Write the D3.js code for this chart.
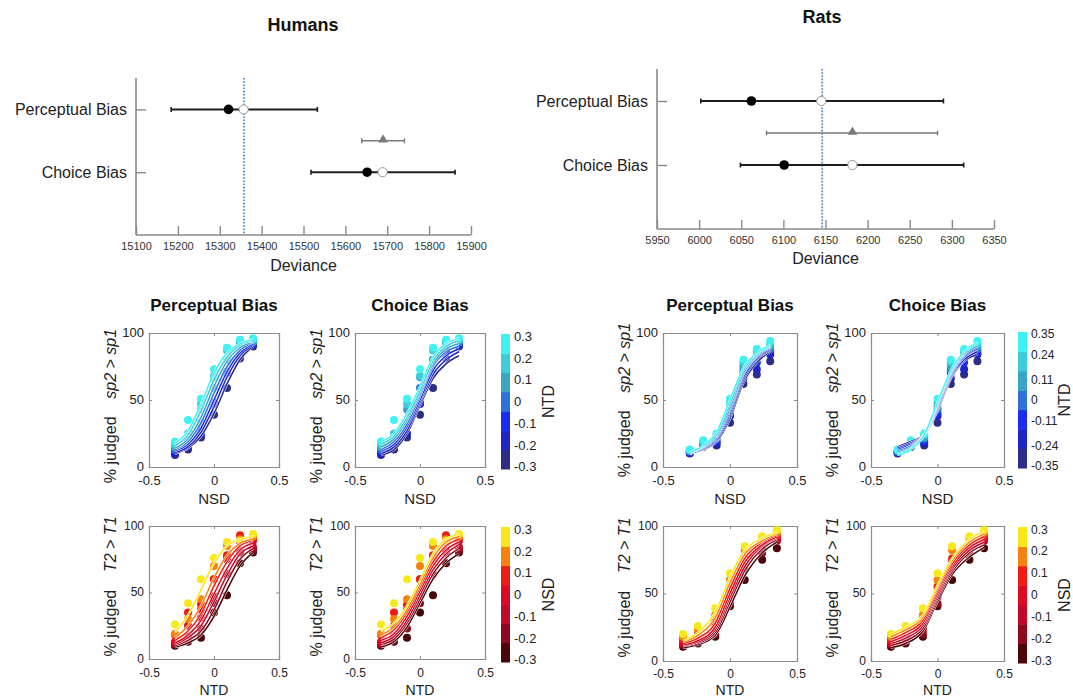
<!DOCTYPE html>
<html><head><meta charset="utf-8">
<script src="https://cdn.jsdelivr.net/npm/d3@7"></script>
<style>body{margin:0;background:#fff} svg{font-family:"Liberation Sans",Arial,Helvetica,sans-serif}</style>
</head><body><svg id="c" width="1073" height="697"></svg>
<script>
// ---------- Deviance plots ----------
const devRows = ["Perceptual Bias", "Choice Bias"];
const devRowPos = [4, 2];
const humanDevTicks = [15100,15200,15300,15400,15500,15600,15700,15800,15900];
const humanDevRef = 15358;
const humanDevLow = [15184, 15518];
const humanDevHigh = [15533, 15862];
const humanDevFilled = [15321, 15652];
const humanDevOpen = [15357, 15689];
const humanDevTri = [15639, 15690, 15741];
const ratDevTicks = [5950,6000,6050,6100,6150,6200,6250,6300,6350];
const ratDevRef = 6146;
const ratDevLow = [6002, 6049];
const ratDevHigh = [6290, 6314];
const ratDevFilled = [6062, 6101];
const ratDevOpen = [6145, 6182];
const ratDevTri = [6080, 6182, 6283];

// ---------- Psychometric panels ----------
const blueColors = ["#2c2e86","#1f24c4","#1b2cf0","#2e72d8","#3aa4c6","#3cccdc","#3ff2f2"];
const redColors = ["#4a0509","#8a0a1e","#bf0a2a","#dc0a22","#ee1c14","#f5820f","#f8e81a"];
const humanLevelTicks = [-0.3,-0.2,-0.1,0,0.1,0.2,0.3];
const humanX = [-0.3,-0.2,-0.1,0,0.1,0.2,0.3];
// Humans, x = NSD, one row per NTD level (-0.3 .. 0.3)
const humanNSDData = [
  [9,13,22,39,59,81,90],
  [10,15,25,47,70,86,91],
  [12,17,30,48,71,87,92],
  [13,19,33,59,80,89,93],
  [15,22,43,67,80,92,94],
  [17,25,47,68,87,94,95],
  [19,35,51,73,89,95,96]];
const humanNSDPerceptualFit = [
  [10,14,23,40,62,80,90],
  [11,15,26,45,67,83,91],
  [12,17,29,50,71,85,92],
  [13,19,33,55,75,87,93],
  [14,21,37,60,79,89,93.5],
  [16,24,42,65,82,91,94],
  [18,27,47,70,85,92,95]];
const humanNSDChoiceFit = [
  [9,13,25,46,66,77,83],
  [10,15,27,48,69,80,86],
  [12,17,30,50,72,83,88],
  [13,19,32,53,75,86,90],
  [15,21,35,55,77,88,92],
  [17,23,37,57,79,90,94],
  [19,25,40,60,82,92,96]];
// Humans, x = NTD, one row per NSD level (-0.3 .. 0.3)
const humanNTDData = [
  [10,13,16,35,48,72,80],
  [11,14,23,42,64,80,82],
  [12,17,31,47,75,81,84],
  [13,25,37,60,76,88,89],
  [18,35,41,60,78,93,92],
  [19,30,45,70,85,90,92],
  [26,42,60,76,88,89,94]];
const humanNTDPerceptualFit = [
  [9,12,18,32,52,70,80],
  [10,14,21,37,58,75,83],
  [11,16,25,43,63,79,85],
  [12,18,29,49,68,82,87],
  [14,21,34,55,73,85,89],
  [16,25,40,61,78,87,90],
  [20,33,52,72,85,90,92]];
const humanNTDChoiceFit = [
  [9,13,24,42,60,72,79],
  [11,15,27,45,64,76,83],
  [12,17,29,48,67,79,86],
  [14,19,32,51,70,82,88],
  [16,22,35,54,73,85,90],
  [18,24,37,56,76,88,92],
  [21,27,40,59,79,90,94]];
// Rats
const ratNTDLevels = [-0.35,-0.24,-0.11,0,0.11,0.24,0.35];
const ratNSDLevels = [-0.3,-0.2,-0.1,0,0.1,0.2,0.3];
const ratNSDX = [-0.3,-0.2,-0.1,0,0.1,0.2,0.3];
const ratNTDX = [-0.35,-0.24,-0.11,0,0.11,0.24,0.35];
const ratNSDData = [
  [10,15,16,33,62,69,79],
  [10.5,16,18,38,66,73,84],
  [11,16.5,19,40,70,78,86],
  [11.5,17,21,43,72,82,88],
  [12,18,22,45,75,84,90],
  [12.5,19,24,48,78,86,92],
  [13,20,25,51,80,88,94]];
const ratNSDPerceptualFit = [
  [10,13,19,36,63,78,86],
  [10,13.5,20,38,65,80,87],
  [10,14,21,40,67,81,88],
  [10.5,14.5,22,42,69,82,89],
  [10.5,15,23,44,70,83,89.5],
  [11,15.5,24,47,72,84,90],
  [11,16,26,50,74,85,91]];
const ratNSDChoiceFit = [
  [15,19,24,42,66,79,84],
  [14,18,24,43,67,80,86],
  [13,17,24,44,68,82,88],
  [12,16,24,45,69,83,89],
  [11,15,24,46,70,84,90],
  [10,14,24,47,71,85,92],
  [9,13,24,48,72,86,93]];
const ratNTDData = [
  [10.5,13,18,40.6,60,75,83.5],
  [12,14,20,42.6,68,80,89],
  [13,16,23,47.5,72,82,90],
  [14,18,25,51,74,85,91],
  [16,20,29,55,76,87,93],
  [18,23,34,60,82,91,95],
  [20,26,39,65,85,92.5,97]];
const ratNTDPerceptualFit = [
  [10,12,19,40,63,80,88],
  [11,13,21,44,67,83,90],
  [11.5,14,23,47,70,85,91],
  [12,15,25,50,73,86,92],
  [13,17,28,54,76,88,93],
  [14,19,32,58,79,89,94],
  [15,21,36,62,82,91,95]];
const ratNTDChoiceFit = [
  [10,13,22,44,64,77,84],
  [11.5,15,24,46,66,80,86],
  [13,17,26,48,68,82,88],
  [14.5,19,28,50,70,84,90],
  [16,21,30,52,72,86,92],
  [18,23,32,54,74,88,94],
  [20,25,34,56,76,90,96]];
const xTicks = [-0.5,0,0.5];
const yTicks = [0,50,100];

const svg = d3.select("#c");
const FONT = '"Liberation Sans",Arial,Helvetica,sans-serif';

function devPlot(o){
  const g = svg.append("g");
  const x = d3.scaleLinear().domain([o.ticks[0], o.ticks[o.ticks.length-1]]).range([o.x0, o.x1]);
  const y = d3.scaleLinear().domain([0,5]).range([o.yBot, o.yTop]);
  const ax = g.append("g").attr("transform",`translate(0,${o.yBot})`)
    .call(d3.axisBottom(x).tickValues(o.ticks).tickFormat(d3.format("d")).tickSize(-9).tickPadding(7));
  ax.selectAll("text").attr("font-size",11).attr("fill","#333").attr("font-family",FONT);
  const ay = g.append("g").attr("transform",`translate(${o.x0},0)`)
    .call(d3.axisLeft(y).tickValues(devRowPos).tickFormat((d,i)=>devRows[i]).tickSize(-10).tickPadding(9));
  ay.selectAll("text").attr("font-size",16).attr("fill","#222").attr("font-family",FONT);
  [ax,ay].forEach(a=>{
    a.select(".domain").attr("stroke","#8a8a8a").attr("stroke-width",1.6);
    a.selectAll(".tick line").attr("stroke","#8a8a8a").attr("stroke-width",1.4);
  });
  ay.select(".domain").attr("d",`M0,${o.yTop}V${o.yBot}`);
  ax.select(".domain").attr("d",`M${o.x0},0H${o.x1}`);
  g.append("line").attr("x1",x(o.ref)).attr("x2",x(o.ref)).attr("y1",o.yTop).attr("y2",o.yBot)
    .attr("stroke","#3b7fc4").attr("stroke-width",1.6).attr("stroke-dasharray","1.6,1.6");
  const ty = y(3);
  g.append("line").attr("x1",x(o.tri[0])).attr("x2",x(o.tri[2])).attr("y1",ty).attr("y2",ty).attr("stroke","#7a7a7a").attr("stroke-width",1.6);
  [o.tri[0],o.tri[2]].forEach(v=>g.append("line").attr("x1",x(v)).attr("x2",x(v)).attr("y1",ty-2.5).attr("y2",ty+2.5).attr("stroke","#7a7a7a").attr("stroke-width",1.4));
  g.append("path").attr("d",d3.symbol(d3.symbolTriangle,40)()).attr("transform",`translate(${x(o.tri[1])},${ty-1})`).attr("fill","#7a7a7a");
  devRowPos.forEach((r,i)=>{
    const yy = y(r);
    g.append("line").attr("x1",x(o.low[i])).attr("x2",x(o.high[i])).attr("y1",yy).attr("y2",yy).attr("stroke","#1e1e1e").attr("stroke-width",2);
    [o.low[i],o.high[i]].forEach(v=>g.append("line").attr("x1",x(v)).attr("x2",x(v)).attr("y1",yy-2.5).attr("y2",yy+2.5).attr("stroke","#1e1e1e").attr("stroke-width",1.6));
    g.append("circle").attr("cx",x(o.filled[i])).attr("cy",yy).attr("r",4.8).attr("fill","#000");
    g.append("circle").attr("cx",x(o.open[i])).attr("cy",yy).attr("r",4.6).attr("fill","#fff").attr("stroke","#9a9a9a").attr("stroke-width",1);
  });
  g.append("text").attr("x",o.titleX).attr("y",o.titleY).attr("text-anchor","middle").attr("font-size",18).attr("font-weight","bold").attr("fill","#111").text(o.title);
  g.append("text").attr("x",(o.x0+o.x1)/2).attr("y",o.labelY).attr("text-anchor","middle").attr("font-size",16).attr("fill","#222").text("Deviance");
}

devPlot({x0:136,x1:471,yTop:78,yBot:235,ticks:humanDevTicks,ref:humanDevRef,low:humanDevLow,high:humanDevHigh,
  filled:humanDevFilled,open:humanDevOpen,tri:humanDevTri,title:"Humans",titleX:303,titleY:31,labelY:271});
devPlot({x0:657,x1:994,yTop:69,yBot:229,ticks:ratDevTicks,ref:ratDevRef,low:ratDevLow,high:ratDevHigh,
  filled:ratDevFilled,open:ratDevOpen,tri:ratDevTri,title:"Rats",titleX:822,titleY:23,labelY:264});

function panel(o){
  const g = svg.append("g");
  const x = d3.scaleLinear().domain([-0.5,0.5]).range([o.x0,o.x1]);
  const y = d3.scaleLinear().domain([0,100]).range([o.y1,o.y0]);
  const axes = [
    g.append("g").attr("transform",`translate(0,${o.y1})`).call(d3.axisBottom(x).tickValues(xTicks).tickSize(-3).tickPadding(o.pad).tickFormat(d=>d===0?"0":d3.format(".1f")(d).replace("\u2212","-"))),
    g.append("g").attr("transform",`translate(${o.x0},0)`).call(d3.axisLeft(y).tickValues(yTicks).tickSize(-3).tickPadding(5)),
    g.append("g").attr("transform",`translate(0,${o.y0})`).call(d3.axisTop(x).tickValues(xTicks).tickSize(-3).tickFormat("")),
    g.append("g").attr("transform",`translate(${o.x1},0)`).call(d3.axisRight(y).tickValues(yTicks).tickSize(-3).tickFormat(""))
  ];
  axes.forEach(a=>{
    a.select(".domain").attr("stroke","#8c8c8c").attr("stroke-width",1.2);
    a.selectAll(".tick line").attr("stroke","#8c8c8c");
    a.selectAll("text").attr("font-size",o.fs).attr("fill","#222").attr("font-family",FONT);
  });
  axes[1].selectAll("text").attr("dy","0.25em");
  o.data.forEach((row,li)=>{
    row.forEach((v,i)=>{
      g.append("circle").attr("cx",x(o.xs[i])).attr("cy",y(v)).attr("r",4).attr("fill",o.colors[li]);
    });
  });
  const line = d3.line().x((d,i)=>x(o.xs[i])).y(d=>y(d)).curve(d3.curveMonotoneX);
  o.fit.forEach((row,li)=>{
    g.append("path").attr("d",line(row)).attr("fill","none").attr("stroke","#fff").attr("stroke-width",2.4);
    g.append("path").attr("d",line(row)).attr("fill","none").attr("stroke",o.colors[li]).attr("stroke-width",1.5);
  });
  if(o.title) g.append("text").attr("x",(o.x0+o.x1)/2).attr("y",o.y0-22).attr("text-anchor","middle")
      .attr("font-size",17).attr("font-weight","bold").attr("fill","#111").text(o.title);
  g.append("text").attr("x",(o.x0+o.x1)/2).attr("y",Math.min(o.y1+37,695)).attr("text-anchor","middle").attr("font-size",o.title?15:14).attr("fill","#222").text(o.xlabel);
  const yl = g.append("text").attr("transform",`translate(${o.x0-33},${(o.y0+o.y1)/2+o.yOff}) rotate(-90)`)
    .attr("text-anchor","middle").attr("font-size",16).attr("fill","#222").attr("xml:space","preserve");
  yl.append("tspan").text("% judged    ");
  yl.append("tspan").attr("font-style","italic").text(o.ylab);
}

function colorbar(o){
  const g = svg.append("g");
  const s = d3.scaleLinear().domain([-o.ext,o.ext]).range([o.y1,o.y0]);
  const n = o.colors.length, h = (o.y1-o.y0)/n;
  o.colors.forEach((c,i)=>{
    g.append("rect").attr("x",o.x).attr("y",o.y1-(i+1)*h).attr("width",9).attr("height",h+0.5).attr("fill",c);
  });
  const a = g.append("g").attr("transform",`translate(${o.x+9},0)`)
    .call(d3.axisRight(s).tickValues(o.ticks).tickSize(0).tickPadding(4).tickFormat(d=>String(d)));
  a.select(".domain").remove();
  a.selectAll("text").attr("font-size",o.fs).attr("fill","#222").attr("font-family",FONT);
  g.append("text").attr("transform",`translate(${o.lx},${(o.y0+o.y1)/2}) rotate(-90)`).attr("text-anchor","middle")
    .attr("dy","0.35em").attr("font-size",16).attr("fill","#222").text(o.label);
}

// Humans
panel({x0:149,x1:279,y0:333,y1:467,pad:9,fs:13,xs:humanX,data:humanNSDData,fit:humanNSDPerceptualFit,colors:blueColors,title:"Perceptual Bias",xlabel:"NSD",ylab:"sp2 > sp1",yOff:6});
panel({x0:355,x1:485,y0:333,y1:467,pad:9,fs:13,xs:humanX,data:humanNSDData,fit:humanNSDChoiceFit,colors:blueColors,title:"Choice Bias",xlabel:"NSD",ylab:"sp2 > sp1",yOff:6});
panel({x0:149,x1:279,y0:526,y1:659,pad:9,fs:12,xs:humanX,data:humanNTDData,fit:humanNTDPerceptualFit,colors:redColors,title:null,xlabel:"NTD",ylab:"T2 > T1",yOff:-6});
panel({x0:355,x1:485,y0:526,y1:659,pad:9,fs:12,xs:humanX,data:humanNTDData,fit:humanNTDChoiceFit,colors:redColors,title:null,xlabel:"NTD",ylab:"T2 > T1",yOff:-6});
colorbar({x:501,y0:334,y1:469,ext:0.31,colors:blueColors,ticks:humanLevelTicks,label:"NTD",lx:548,fs:13});
colorbar({x:501,y0:527,y1:662,ext:0.31,colors:redColors,ticks:humanLevelTicks,label:"NSD",lx:548,fs:13});
// Rats
panel({x0:663,x1:797,y0:333,y1:467,pad:9,fs:13,xs:ratNSDX,data:ratNSDData,fit:ratNSDPerceptualFit,colors:blueColors,title:"Perceptual Bias",xlabel:"NSD",ylab:"sp2 > sp1",yOff:0});
panel({x0:871,x1:1004,y0:333,y1:467,pad:9,fs:13,xs:ratNSDX,data:ratNSDData,fit:ratNSDChoiceFit,colors:blueColors,title:"Choice Bias",xlabel:"NSD",ylab:"sp2 > sp1",yOff:0});
panel({x0:663,x1:797,y0:526,y1:661,pad:8,fs:12,xs:ratNTDX,data:ratNTDData,fit:ratNTDPerceptualFit,colors:redColors,title:null,xlabel:"NTD",ylab:"T2 > T1",yOff:-6});
panel({x0:871,x1:1004,y0:526,y1:661,pad:8,fs:12,xs:ratNTDX,data:ratNTDData,fit:ratNTDChoiceFit,colors:redColors,title:null,xlabel:"NTD",ylab:"T2 > T1",yOff:-6});
colorbar({x:1018,y0:332,y1:468,ext:0.36,colors:blueColors,ticks:ratNTDLevels,label:"NTD",lx:1064,fs:12});
colorbar({x:1018,y0:527,y1:663,ext:0.31,colors:redColors,ticks:ratNSDLevels,label:"NSD",lx:1064,fs:12});
</script></body></html>
